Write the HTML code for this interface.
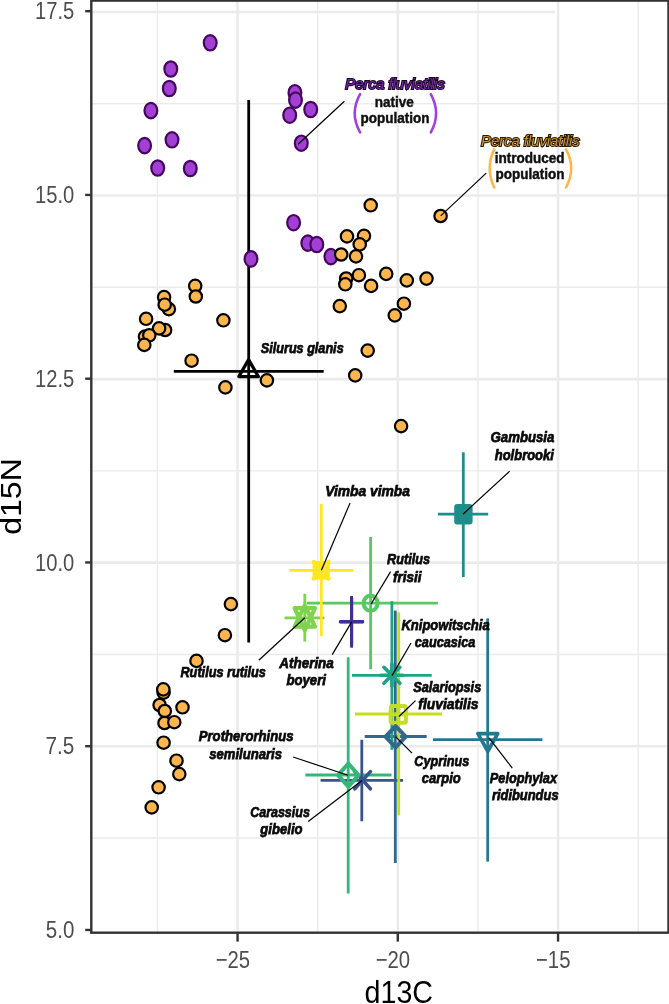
<!DOCTYPE html>
<html><head><meta charset="utf-8"><title>d15N vs d13C</title>
<style>html,body{margin:0;padding:0;background:#fff;}svg{display:block;will-change:transform;}text{font-family:"Liberation Sans",sans-serif;}</style>
</head><body>
<svg width="669" height="1004" viewBox="0 0 669 1004" font-family="Liberation Sans, sans-serif"><rect x="0" y="0" width="669" height="1004" fill="#fff"/>
<line x1="157.43" y1="0.6" x2="157.43" y2="932.7" stroke="#EBEBEB" stroke-width="1.4"/>
<line x1="317.68" y1="0.6" x2="317.68" y2="932.7" stroke="#EBEBEB" stroke-width="1.4"/>
<line x1="477.92" y1="0.6" x2="477.92" y2="932.7" stroke="#EBEBEB" stroke-width="1.4"/>
<line x1="638.17" y1="0.6" x2="638.17" y2="932.7" stroke="#EBEBEB" stroke-width="1.4"/>
<line x1="91.3" y1="103.78" x2="668.5" y2="103.78" stroke="#EBEBEB" stroke-width="1.4"/>
<line x1="91.3" y1="287.32" x2="668.5" y2="287.32" stroke="#EBEBEB" stroke-width="1.4"/>
<line x1="91.3" y1="470.88" x2="668.5" y2="470.88" stroke="#EBEBEB" stroke-width="1.4"/>
<line x1="91.3" y1="654.43" x2="668.5" y2="654.43" stroke="#EBEBEB" stroke-width="1.4"/>
<line x1="91.3" y1="837.98" x2="668.5" y2="837.98" stroke="#EBEBEB" stroke-width="1.4"/>
<line x1="237.55" y1="0.6" x2="237.55" y2="932.7" stroke="#EBEBEB" stroke-width="2.6"/>
<line x1="397.80" y1="0.6" x2="397.80" y2="932.7" stroke="#EBEBEB" stroke-width="2.6"/>
<line x1="558.05" y1="0.6" x2="558.05" y2="932.7" stroke="#EBEBEB" stroke-width="2.6"/>
<line x1="91.3" y1="195.55" x2="668.5" y2="195.55" stroke="#EBEBEB" stroke-width="2.6"/>
<line x1="91.3" y1="379.10" x2="668.5" y2="379.10" stroke="#EBEBEB" stroke-width="2.6"/>
<line x1="91.3" y1="562.65" x2="668.5" y2="562.65" stroke="#EBEBEB" stroke-width="2.6"/>
<line x1="91.3" y1="746.20" x2="668.5" y2="746.20" stroke="#EBEBEB" stroke-width="2.6"/>
<line x1="91.3" y1="12.00" x2="555" y2="12.00" stroke="#EBEBEB" stroke-width="2.6"/>
<g stroke="#000" stroke-width="2.8" fill="none"><line x1="248.7" y1="100.1" x2="248.7" y2="642.6"/><line x1="173.8" y1="371.3" x2="323.7" y2="371.3"/></g>
<g stroke-width="2.8"><line stroke="#1F8E8B" x1="437.9" y1="514.2" x2="488.2" y2="514.2"/><line stroke="#FDE725" x1="289.4" y1="570.3" x2="353.2" y2="570.3"/><line stroke="#58C865" x1="306.9" y1="603.2" x2="437.9" y2="603.2"/><line stroke="#7FD34E" x1="284.5" y1="617.8" x2="324.5" y2="617.8"/><line stroke="#3F3094" x1="339.1" y1="621.8" x2="364.0" y2="621.8"/><line stroke="#35B779" x1="305.4" y1="775.0" x2="391.5" y2="775.0"/><line stroke="#23788E" x1="433.0" y1="739.6" x2="542.4" y2="739.6"/><line stroke="#1FA386" x1="352.0" y1="675.4" x2="431.7" y2="675.4"/><line stroke="#31688E" x1="364.7" y1="736.5" x2="426.7" y2="736.5"/><line stroke="#C6DE22" x1="355.0" y1="714.0" x2="442.0" y2="714.0"/><line stroke="#3B528B" x1="320.6" y1="780.3" x2="403.1" y2="780.3"/><line stroke="#1F8E8B" x1="463.3" y1="452.3" x2="463.3" y2="577.0"/><line stroke="#FDE725" x1="321.3" y1="503.9" x2="321.3" y2="636.2"/><line stroke="#58C865" x1="370.6" y1="537.0" x2="370.6" y2="669.2"/><line stroke="#7FD34E" x1="304.8" y1="593.7" x2="304.8" y2="641.6"/><line stroke="#3F3094" x1="351.6" y1="596.0" x2="351.6" y2="647.7"/><line stroke="#35B779" x1="348.2" y1="657.3" x2="348.2" y2="893.5"/><line stroke="#23788E" x1="487.7" y1="618.4" x2="487.7" y2="861.6"/><line stroke="#1FA386" x1="391.9" y1="601.2" x2="391.9" y2="749.8"/><line stroke="#31688E" x1="395.3" y1="610.6" x2="395.3" y2="863.0"/><line stroke="#C6DE22" x1="398.7" y1="612.4" x2="398.7" y2="815.3"/><line stroke="#3B528B" x1="361.8" y1="739.8" x2="361.8" y2="821.3"/></g>
<g fill="#A23FD4" stroke="#45075C" stroke-width="2.2"><ellipse cx="210.2" cy="42.8" rx="6.4" ry="7.7"/><ellipse cx="170.8" cy="69.0" rx="6.4" ry="7.7"/><ellipse cx="169.3" cy="88.5" rx="6.4" ry="7.7"/><ellipse cx="150.9" cy="110.6" rx="6.4" ry="7.7"/><ellipse cx="172.0" cy="139.8" rx="6.4" ry="7.7"/><ellipse cx="144.6" cy="145.6" rx="6.4" ry="7.7"/><ellipse cx="157.7" cy="168.0" rx="6.4" ry="7.7"/><ellipse cx="190.3" cy="168.5" rx="6.4" ry="7.7"/><ellipse cx="294.9" cy="92.7" rx="6.4" ry="7.7"/><ellipse cx="295.5" cy="100.1" rx="6.4" ry="7.7"/><ellipse cx="310.7" cy="109.5" rx="6.4" ry="7.7"/><ellipse cx="289.7" cy="115.2" rx="6.4" ry="7.7"/><ellipse cx="301.3" cy="143.2" rx="6.4" ry="7.7"/><ellipse cx="293.6" cy="222.7" rx="6.4" ry="7.7"/><ellipse cx="307.8" cy="243.1" rx="6.4" ry="7.7"/><ellipse cx="316.8" cy="244.5" rx="6.4" ry="7.7"/><ellipse cx="330.9" cy="256.6" rx="6.4" ry="7.7"/><ellipse cx="251.0" cy="258.9" rx="6.4" ry="7.7"/></g>
<g fill="#FDB64E" stroke="#000" stroke-width="2.2"><circle cx="370.7" cy="205.3" r="6.2"/><circle cx="440.6" cy="216.0" r="6.2"/><circle cx="347.0" cy="236.4" r="6.2"/><circle cx="364.0" cy="235.8" r="6.2"/><circle cx="359.7" cy="244.4" r="6.2"/><circle cx="341.2" cy="254.5" r="6.2"/><circle cx="356.0" cy="256.4" r="6.2"/><circle cx="346.2" cy="278.5" r="6.2"/><circle cx="358.9" cy="275.2" r="6.2"/><circle cx="345.3" cy="284.3" r="6.2"/><circle cx="371.1" cy="285.9" r="6.2"/><circle cx="386.2" cy="273.9" r="6.2"/><circle cx="406.8" cy="280.4" r="6.2"/><circle cx="426.5" cy="278.6" r="6.2"/><circle cx="339.8" cy="306.1" r="6.2"/><circle cx="403.9" cy="303.7" r="6.2"/><circle cx="394.8" cy="315.4" r="6.2"/><circle cx="367.7" cy="350.6" r="6.2"/><circle cx="355.2" cy="375.4" r="6.2"/><circle cx="401.1" cy="426.1" r="6.2"/><circle cx="195.2" cy="285.8" r="6.2"/><circle cx="195.8" cy="296.5" r="6.2"/><circle cx="164.1" cy="297.1" r="6.2"/><circle cx="168.9" cy="309.1" r="6.2"/><circle cx="164.7" cy="304.7" r="6.2"/><circle cx="146.1" cy="318.8" r="6.2"/><circle cx="165.1" cy="330.0" r="6.2"/><circle cx="159.1" cy="328.4" r="6.2"/><circle cx="145.0" cy="336.6" r="6.2"/><circle cx="149.3" cy="335.3" r="6.2"/><circle cx="144.3" cy="344.9" r="6.2"/><circle cx="223.4" cy="320.3" r="6.2"/><circle cx="191.6" cy="360.7" r="6.2"/><circle cx="225.4" cy="387.4" r="6.2"/><circle cx="266.9" cy="380.4" r="6.2"/><circle cx="230.9" cy="604.1" r="6.2"/><circle cx="224.9" cy="635.2" r="6.2"/><circle cx="196.5" cy="660.9" r="6.2"/><circle cx="163.6" cy="692.6" r="6.2"/><circle cx="163.3" cy="689.4" r="6.2"/><circle cx="159.6" cy="705.0" r="6.2"/><circle cx="164.8" cy="711.0" r="6.2"/><circle cx="182.5" cy="707.3" r="6.2"/><circle cx="164.5" cy="723.0" r="6.2"/><circle cx="174.3" cy="722.2" r="6.2"/><circle cx="163.6" cy="742.7" r="6.2"/><circle cx="176.5" cy="760.7" r="6.2"/><circle cx="179.3" cy="774.1" r="6.2"/><circle cx="158.6" cy="787.3" r="6.2"/><circle cx="151.7" cy="807.4" r="6.2"/></g>
<path d="M248.6 359.6 L258.4 376.6 L238.8 376.6 Z" fill="none" stroke="#000" stroke-width="3.2" stroke-linejoin="round"/>
<rect x="455.2" y="505.0" width="16.4" height="18.6" rx="2" fill="#1F8E8B" stroke="#1F8E8B" stroke-width="2"/>
<g fill="#FDE725"><rect x="312.59999999999997" y="560.9" width="17.2" height="18.8" rx="3"/><circle cx="313.9" cy="562.0999999999999" r="2.3"/><circle cx="313.9" cy="578.5" r="2.3"/><circle cx="328.5" cy="562.0999999999999" r="2.3"/><circle cx="328.5" cy="578.5" r="2.3"/></g>
<g fill="none" stroke="#7FD34E" stroke-width="4.2" stroke-linejoin="round"><path d="M304.8 605.3 L315.0 626.6999999999999 L294.6 626.6999999999999 Z"/><path d="M304.8 630.3 L315.0 608.1999999999999 L294.6 608.1999999999999 Z"/></g>
<ellipse cx="370.6" cy="603.2" rx="7.0" ry="7.6" fill="none" stroke="#58C865" stroke-width="4"/>
<g stroke="#3F3094" stroke-width="3.6" stroke-linecap="round"><line x1="340.6" y1="621.8" x2="362.5" y2="621.8"/><line x1="351.6" y1="598" x2="351.6" y2="645.5" stroke-width="3.2"/></g>
<g stroke="#1FA386" stroke-width="3.6" stroke-linecap="round"><line x1="383.9" y1="667.3" x2="399.9" y2="683.3"/><line x1="383.9" y1="683.3" x2="399.9" y2="667.3"/><line x1="391.9" y1="664.3" x2="391.9" y2="686.3"/><line x1="380.9" y1="675.3" x2="402.9" y2="675.3"/></g>
<g stroke="#C6DE22" stroke-width="4" fill="none"><rect x="390.7" y="705.9" width="15.2" height="16.8" rx="1.5"/><line x1="398.3" y1="706.3" x2="398.3" y2="722.3"/><line x1="391.3" y1="714.3" x2="405.3" y2="714.3"/></g>
<path d="M395.6 726.1 L405.70000000000005 736.7 L395.6 747.3000000000001 L385.5 736.7 Z" fill="none" stroke="#31688E" stroke-width="4" stroke-linejoin="round"/>
<path d="M477.90000000000003 733.6 L497.7 733.6 L487.8 751.3 Z" fill="none" stroke="#23788E" stroke-width="3.7" stroke-linejoin="round"/>
<g stroke="#3B528B" stroke-width="3.6" stroke-linecap="round"><line x1="354.8" y1="788.8000000000001" x2="370.40000000000003" y2="771.6"/><line x1="354.8" y1="771.6" x2="370.40000000000003" y2="788.8000000000001"/></g>
<path d="M348.3 763.5 L358.5 775.1 L348.3 786.7 L338.1 775.1 Z" fill="none" stroke="#35B779" stroke-width="4" stroke-linejoin="round"/>
<g stroke="#000" stroke-width="1.2"><line x1="298.1" y1="144.2" x2="344.4" y2="101.3"/><line x1="440.7" y1="215.9" x2="486.2" y2="173.1"/><line x1="463.0" y1="514.2" x2="509.7" y2="471.1"/><line x1="321.4" y1="570.3" x2="350.1" y2="502.9"/><line x1="371.0" y1="604.3" x2="390.6" y2="571.6"/><line x1="304.8" y1="617.8" x2="258.8" y2="660.3"/><line x1="351.7" y1="621.9" x2="332.2" y2="654.6"/><line x1="392.0" y1="675.6" x2="411.0" y2="643.0"/><line x1="399.0" y1="716.5" x2="415.5" y2="700.6"/><line x1="395.5" y1="736.6" x2="412.0" y2="753.2"/><line x1="489.0" y1="737.9" x2="512.3" y2="768.1"/><line x1="293.1" y1="757.0" x2="348.0" y2="775.3"/><line x1="308.2" y1="821.6" x2="362.0" y2="780.4"/></g>
<g fill="none" stroke-width="2.6" stroke-linecap="round"><path stroke="#A040DD" d="M360.1 94.1 Q349.30 113.25 360.1 132.4"/><path stroke="#A040DD" d="M430.8 94.1 Q441.40 113.25 430.8 132.4"/><path stroke="#FDB64E" d="M494.2 149.4 Q485.20 168.45 494.2 187.5"/><path stroke="#FDB64E" d="M566.0 149.4 Q576.40 168.45 566.0 187.5"/></g>
<text x="260.81" y="352.70" font-size="15" font-style="italic" font-weight="bold" textLength="82.86" lengthAdjust="spacingAndGlyphs" fill="#0a0a0a" stroke="#0a0a0a" stroke-width="0.75">Silurus glanis</text>
<text x="325.23" y="496.30" font-size="15" font-style="italic" font-weight="bold" textLength="84.71" lengthAdjust="spacingAndGlyphs" fill="#0a0a0a" stroke="#0a0a0a" stroke-width="0.75">Vimba vimba</text>
<text x="387.05" y="564.40" font-size="15" font-style="italic" font-weight="bold" textLength="42.98" lengthAdjust="spacingAndGlyphs" fill="#0a0a0a" stroke="#0a0a0a" stroke-width="0.75">Rutilus</text>
<text x="393.03" y="581.80" font-size="15" font-style="italic" font-weight="bold" textLength="28.53" lengthAdjust="spacingAndGlyphs" fill="#0a0a0a" stroke="#0a0a0a" stroke-width="0.75">frisii</text>
<text x="180.45" y="676.90" font-size="15" font-style="italic" font-weight="bold" textLength="85.43" lengthAdjust="spacingAndGlyphs" fill="#0a0a0a" stroke="#0a0a0a" stroke-width="0.75">Rutilus rutilus</text>
<text x="279.27" y="668.20" font-size="15" font-style="italic" font-weight="bold" textLength="54.55" lengthAdjust="spacingAndGlyphs" fill="#0a0a0a" stroke="#0a0a0a" stroke-width="0.75">Atherina</text>
<text x="286.44" y="685.00" font-size="15" font-style="italic" font-weight="bold" textLength="39.51" lengthAdjust="spacingAndGlyphs" fill="#0a0a0a" stroke="#0a0a0a" stroke-width="0.75">boyeri</text>
<text x="401.44" y="629.90" font-size="15" font-style="italic" font-weight="bold" textLength="88.20" lengthAdjust="spacingAndGlyphs" fill="#0a0a0a" stroke="#0a0a0a" stroke-width="0.75">Knipowitschia</text>
<text x="414.82" y="647.10" font-size="15" font-style="italic" font-weight="bold" textLength="60.58" lengthAdjust="spacingAndGlyphs" fill="#0a0a0a" stroke="#0a0a0a" stroke-width="0.75">caucasica</text>
<text x="413.31" y="692.30" font-size="15" font-style="italic" font-weight="bold" textLength="67.95" lengthAdjust="spacingAndGlyphs" fill="#0a0a0a" stroke="#0a0a0a" stroke-width="0.75">Salariopsis</text>
<text x="418.31" y="708.50" font-size="15" font-style="italic" font-weight="bold" textLength="60.17" lengthAdjust="spacingAndGlyphs" fill="#0a0a0a" stroke="#0a0a0a" stroke-width="0.75">fluviatilis</text>
<text x="414.37" y="765.60" font-size="15" font-style="italic" font-weight="bold" textLength="54.86" lengthAdjust="spacingAndGlyphs" fill="#0a0a0a" stroke="#0a0a0a" stroke-width="0.75">Cyprinus</text>
<text x="421.71" y="783.00" font-size="15" font-style="italic" font-weight="bold" textLength="39.09" lengthAdjust="spacingAndGlyphs" fill="#0a0a0a" stroke="#0a0a0a" stroke-width="0.75">carpio</text>
<text x="489.85" y="783.40" font-size="15" font-style="italic" font-weight="bold" textLength="67.11" lengthAdjust="spacingAndGlyphs" fill="#0a0a0a" stroke="#0a0a0a" stroke-width="0.75">Pelophylax</text>
<text x="491.91" y="800.20" font-size="15" font-style="italic" font-weight="bold" textLength="66.66" lengthAdjust="spacingAndGlyphs" fill="#0a0a0a" stroke="#0a0a0a" stroke-width="0.75">ridibundus</text>
<text x="198.74" y="740.70" font-size="15" font-style="italic" font-weight="bold" textLength="94.86" lengthAdjust="spacingAndGlyphs" fill="#0a0a0a" stroke="#0a0a0a" stroke-width="0.75">Protherorhinus</text>
<text x="209.27" y="758.70" font-size="15" font-style="italic" font-weight="bold" textLength="72.73" lengthAdjust="spacingAndGlyphs" fill="#0a0a0a" stroke="#0a0a0a" stroke-width="0.75">semilunaris</text>
<text x="250.18" y="817.00" font-size="15" font-style="italic" font-weight="bold" textLength="59.67" lengthAdjust="spacingAndGlyphs" fill="#0a0a0a" stroke="#0a0a0a" stroke-width="0.75">Carassius</text>
<text x="260.37" y="833.80" font-size="15" font-style="italic" font-weight="bold" textLength="42.26" lengthAdjust="spacingAndGlyphs" fill="#0a0a0a" stroke="#0a0a0a" stroke-width="0.75">gibelio</text>
<text x="490.54" y="442.20" font-size="15" font-style="italic" font-weight="bold" textLength="63.86" lengthAdjust="spacingAndGlyphs" fill="#0a0a0a" stroke="#0a0a0a" stroke-width="0.75">Gambusia</text>
<text x="494.81" y="459.70" font-size="15" font-style="italic" font-weight="bold" textLength="59.00" lengthAdjust="spacingAndGlyphs" fill="#0a0a0a" stroke="#0a0a0a" stroke-width="0.75">holbrooki</text>
<text x="345.35" y="89.00" font-size="14.5" font-style="italic" font-weight="normal" textLength="99.33" lengthAdjust="spacingAndGlyphs" fill="#7424A6" stroke="#1a0524" stroke-width="2.0" paint-order="stroke">Perca fluviatilis</text>
<text x="374.72" y="106.80" font-size="14" font-style="normal" font-weight="bold" textLength="39.05" lengthAdjust="spacingAndGlyphs" fill="#111" stroke="#111" stroke-width="0.45">native</text>
<text x="360.52" y="123.30" font-size="14" font-style="normal" font-weight="bold" textLength="68.99" lengthAdjust="spacingAndGlyphs" fill="#111" stroke="#111" stroke-width="0.45">population</text>
<text x="481.06" y="145.70" font-size="14.5" font-style="italic" font-weight="normal" textLength="98.63" lengthAdjust="spacingAndGlyphs" fill="#CF9030" stroke="#241800" stroke-width="2.0" paint-order="stroke">Perca fluviatilis</text>
<text x="494.75" y="162.90" font-size="14" font-style="normal" font-weight="bold" textLength="69.85" lengthAdjust="spacingAndGlyphs" fill="#111" stroke="#111" stroke-width="0.45">introduced</text>
<text x="495.52" y="179.30" font-size="14" font-style="normal" font-weight="bold" textLength="68.99" lengthAdjust="spacingAndGlyphs" fill="#111" stroke="#111" stroke-width="0.45">population</text>
<rect x="91.3" y="0.6" width="577.20" height="932.10" fill="none" stroke="#333" stroke-width="2.4"/>
<g stroke="#333" stroke-width="2.4"><line x1="85.2" y1="11.20" x2="91.3" y2="11.20"/><line x1="85.2" y1="194.95" x2="91.3" y2="194.95"/><line x1="85.2" y1="378.70" x2="91.3" y2="378.70"/><line x1="85.2" y1="562.45" x2="91.3" y2="562.45"/><line x1="85.2" y1="746.20" x2="91.3" y2="746.20"/><line x1="85.2" y1="929.95" x2="91.3" y2="929.95"/><line x1="237.55" y1="932.7" x2="237.55" y2="941.6"/><line x1="397.80" y1="932.7" x2="397.80" y2="941.6"/><line x1="558.05" y1="932.7" x2="558.05" y2="941.6"/></g>
<text x="35.09" y="19.10" font-size="24.2" font-style="normal" font-weight="normal" textLength="39.25" lengthAdjust="spacingAndGlyphs" fill="#4D4D4D" >17.5</text>
<text x="35.09" y="202.90" font-size="24.2" font-style="normal" font-weight="normal" textLength="39.25" lengthAdjust="spacingAndGlyphs" fill="#4D4D4D" >15.0</text>
<text x="35.09" y="386.70" font-size="24.2" font-style="normal" font-weight="normal" textLength="39.25" lengthAdjust="spacingAndGlyphs" fill="#4D4D4D" >12.5</text>
<text x="35.09" y="570.60" font-size="24.2" font-style="normal" font-weight="normal" textLength="39.25" lengthAdjust="spacingAndGlyphs" fill="#4D4D4D" >10.0</text>
<text x="45.57" y="754.30" font-size="24.2" font-style="normal" font-weight="normal" textLength="28.77" lengthAdjust="spacingAndGlyphs" fill="#4D4D4D" >7.5</text>
<text x="45.78" y="937.90" font-size="24.2" font-style="normal" font-weight="normal" textLength="28.55" lengthAdjust="spacingAndGlyphs" fill="#4D4D4D" >5.0</text>
<text x="215.68" y="967.50" font-size="24.2" font-style="normal" font-weight="normal" textLength="34.46" lengthAdjust="spacingAndGlyphs" fill="#4D4D4D" >−25</text>
<text x="375.68" y="967.50" font-size="24.2" font-style="normal" font-weight="normal" textLength="34.46" lengthAdjust="spacingAndGlyphs" fill="#4D4D4D" >−20</text>
<text x="535.98" y="967.50" font-size="24.2" font-style="normal" font-weight="normal" textLength="34.46" lengthAdjust="spacingAndGlyphs" fill="#4D4D4D" >−15</text>
<text x="364.55" y="1003.40" font-size="32" font-style="normal" font-weight="normal" textLength="68.51" lengthAdjust="spacingAndGlyphs" fill="#000" >d13C</text>
<g transform="translate(20.7 534.78) rotate(-90) scale(1 0.92)"><text x="0" y="0" font-size="32" textLength="76.57" lengthAdjust="spacingAndGlyphs" fill="#000">d15N</text></g></svg>
</body></html>
